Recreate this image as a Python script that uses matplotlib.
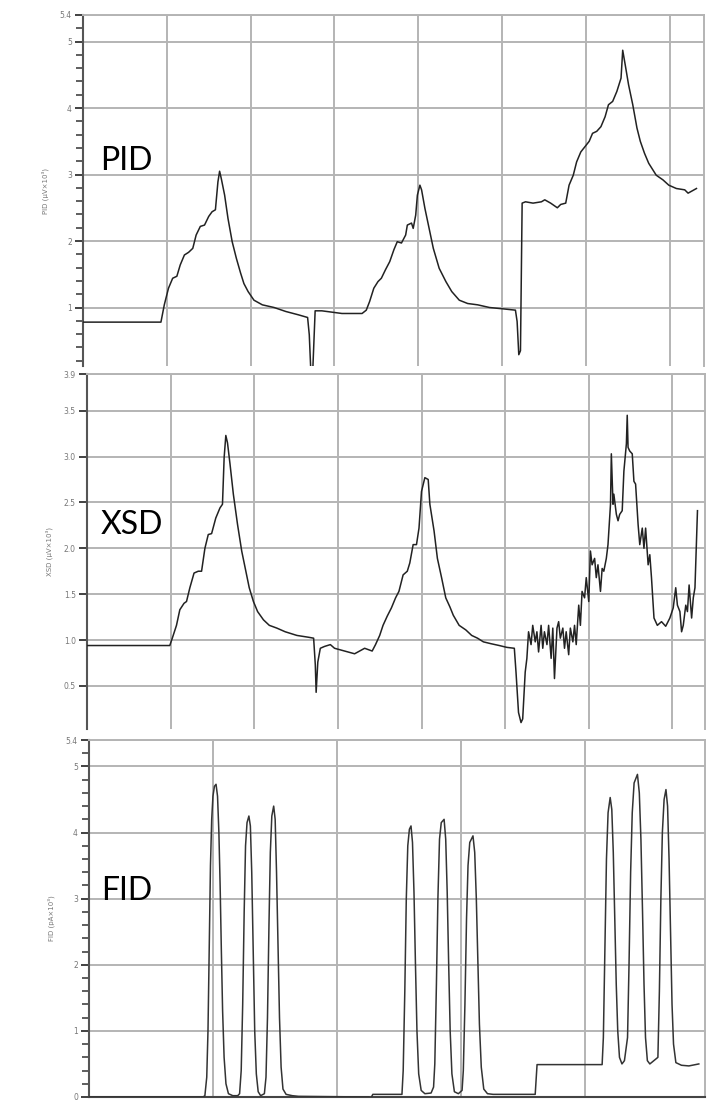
import matplotlib
matplotlib.use("Agg")
import matplotlib.pyplot as plt
from matplotlib.ticker import MultipleLocator

# ---------------- data (time in grid units, signal values) ----------------
pid_t = [0.00, 0.93, 0.97, 1.02, 1.07, 1.12, 1.16, 1.21, 1.26, 1.31, 1.35, 1.40, 1.45,
         1.50, 1.54, 1.58, 1.61, 1.63, 1.65, 1.69, 1.73, 1.78, 1.83, 1.88, 1.92, 1.97,
         2.04, 2.14, 2.28, 2.42, 2.57, 2.68, 2.70, 2.72, 2.74, 2.77, 2.85, 3.09, 3.33,
         3.38, 3.42, 3.47, 3.52, 3.56, 3.61, 3.66, 3.71, 3.75, 3.80, 3.85, 3.87, 3.92,
         3.94, 3.97, 3.99, 4.02, 4.04, 4.08, 4.13, 4.18, 4.25, 4.33, 4.40, 4.49, 4.59,
         4.71, 4.85, 5.01, 5.16, 5.18, 5.20, 5.22, 5.24, 5.28, 5.37, 5.47, 5.51, 5.58,
         5.66, 5.70, 5.76, 5.80, 5.85, 5.89, 5.94, 5.99, 6.04, 6.08, 6.13, 6.18, 6.23,
         6.27, 6.32, 6.37, 6.42, 6.44, 6.47, 6.51, 6.56, 6.61, 6.65, 6.70, 6.75, 6.80,
         6.84, 6.92, 6.99, 7.08, 7.18, 7.22, 7.32]
pid_v = [0.78, 0.78, 1.04, 1.29, 1.44, 1.47, 1.64, 1.79, 1.83, 1.89, 2.09, 2.22, 2.24,
         2.37, 2.44, 2.47, 2.89, 3.05, 2.94, 2.69, 2.34, 1.99, 1.74, 1.52, 1.36, 1.24,
         1.11, 1.04, 1.00, 0.94, 0.89, 0.85, 0.59, 0.00, 0.00, 0.95, 0.95, 0.91, 0.91,
         0.96, 1.09, 1.29, 1.39, 1.44, 1.57, 1.69, 1.87, 1.99, 1.97, 2.09, 2.24, 2.27,
         2.19, 2.39, 2.69, 2.84, 2.77, 2.49, 2.19, 1.89, 1.59, 1.39, 1.24, 1.11, 1.06,
         1.04, 1.00, 0.98, 0.96, 0.79, 0.29, 0.35, 2.57, 2.59, 2.57, 2.59, 2.62, 2.57,
         2.50, 2.55, 2.57, 2.84, 2.99, 3.19, 3.34, 3.42, 3.50, 3.62, 3.65, 3.72, 3.87,
         4.05, 4.10, 4.25, 4.45, 4.87, 4.65, 4.35, 4.05, 3.70, 3.50, 3.32, 3.17, 3.07,
         2.99, 2.92, 2.84, 2.79, 2.77, 2.72, 2.79]

xsd_t = [0.00, 0.99, 1.02, 1.07, 1.11, 1.16, 1.19, 1.23, 1.28, 1.33, 1.37, 1.41, 1.45,
         1.49, 1.54, 1.59, 1.62, 1.64, 1.66, 1.68, 1.71, 1.75, 1.80, 1.85, 1.90, 1.94,
         1.99, 2.04, 2.11, 2.18, 2.27, 2.37, 2.51, 2.65, 2.71, 2.73, 2.74, 2.76, 2.79,
         2.84, 2.91, 2.96, 3.08, 3.20, 3.32, 3.41, 3.45, 3.50, 3.54, 3.59, 3.64, 3.69,
         3.73, 3.78, 3.83, 3.86, 3.90, 3.94, 3.97, 4.00, 4.04, 4.08, 4.10, 4.15, 4.19,
         4.24, 4.29, 4.34, 4.38, 4.45, 4.53, 4.60, 4.67, 4.74, 4.83, 4.93, 5.02, 5.11,
         5.13, 5.16, 5.19, 5.21, 5.24, 5.26,
         5.28, 5.31, 5.33, 5.36, 5.38, 5.40, 5.43, 5.45, 5.47, 5.50, 5.52, 5.55, 5.57,
         5.59, 5.62, 5.64, 5.66, 5.69, 5.71, 5.73, 5.76, 5.78, 5.81, 5.83, 5.85, 5.88,
         5.90, 5.92, 5.95, 5.97, 6.00, 6.02, 6.04, 6.07, 6.09, 6.11, 6.14, 6.16, 6.18,
         6.21, 6.23, 6.26, 6.27, 6.29, 6.30, 6.33, 6.35, 6.37, 6.40, 6.42, 6.45, 6.46,
         6.47, 6.49, 6.52, 6.54, 6.56, 6.59, 6.61, 6.64, 6.66, 6.68, 6.71, 6.73, 6.75,
         6.78, 6.82, 6.87, 6.92, 6.97, 7.01, 7.04, 7.06, 7.09, 7.11, 7.13, 7.16, 7.18,
         7.20, 7.23, 7.25, 7.27, 7.30]
xsd_v = [0.94, 0.94, 1.02, 1.16, 1.33, 1.40, 1.42, 1.57, 1.73, 1.75, 1.75, 2.00, 2.15,
         2.16, 2.33, 2.44, 2.48, 2.99, 3.23, 3.15, 2.92, 2.59, 2.26, 1.97, 1.75, 1.57,
         1.42, 1.31, 1.22, 1.16, 1.13, 1.09, 1.05, 1.03, 1.02, 0.73, 0.43, 0.76, 0.91,
         0.93, 0.95, 0.91, 0.88, 0.85, 0.91, 0.88, 0.95, 1.05, 1.16, 1.26, 1.35, 1.46,
         1.53, 1.71, 1.75, 1.84, 2.04, 2.04, 2.22, 2.62, 2.77, 2.75, 2.48, 2.19, 1.89,
         1.68, 1.46, 1.36, 1.27, 1.16, 1.11, 1.05, 1.02, 0.98, 0.96, 0.94, 0.92, 0.91,
         0.65, 0.21, 0.10, 0.14, 0.65, 0.80,
         1.09, 0.95, 1.16, 0.98, 1.09, 0.87, 1.16, 0.91, 1.09, 0.95, 1.16, 0.80, 1.13,
         0.58, 1.13, 1.20, 1.02, 1.13, 0.91, 1.09, 0.84, 1.13, 0.98, 1.16, 0.95, 1.38,
         1.16, 1.53, 1.46, 1.68, 1.42, 1.97, 1.82, 1.89, 1.68, 1.82, 1.53, 1.78, 1.75,
         1.89, 2.04, 2.48, 3.03, 2.48, 2.59, 2.37, 2.30, 2.37, 2.41, 2.84, 3.14, 3.45,
         3.10, 3.06, 3.03, 2.73, 2.70, 2.26, 2.04, 2.22, 2.00, 2.22, 1.82, 1.93, 1.68,
         1.24, 1.16, 1.20, 1.15, 1.24, 1.35, 1.57, 1.38, 1.31, 1.09, 1.16, 1.38, 1.31,
         1.60, 1.24, 1.46, 1.57, 2.41]

fid_t = [0.000, 0.920,
         0.935, 0.950, 0.960, 0.970, 0.980, 0.990, 1.000, 1.012, 1.025, 1.037, 1.048,
         1.058, 1.068, 1.078, 1.090, 1.105, 1.125, 1.160, 1.200,
         1.215, 1.228, 1.240, 1.252, 1.263, 1.275, 1.290, 1.302, 1.313, 1.325, 1.337,
         1.350, 1.365, 1.385,
         1.415, 1.428, 1.440, 1.452, 1.463, 1.475, 1.490, 1.502, 1.513, 1.525, 1.537,
         1.550, 1.565, 1.590, 1.640, 1.690, 2.260, 2.270, 2.290, 2.525,
         2.535, 2.548, 2.560, 2.572, 2.585, 2.598, 2.610, 2.622, 2.634, 2.646, 2.660,
         2.680, 2.710, 2.760, 2.780,
         2.790, 2.803, 2.815, 2.828, 2.842, 2.865, 2.878, 2.890, 2.902, 2.914, 2.928,
         2.948, 2.980, 3.010,
         3.020, 3.033, 3.046, 3.058, 3.072, 3.098, 3.112, 3.125, 3.138, 3.150, 3.165,
         3.185, 3.215, 3.260, 3.600, 3.615, 4.140,
         4.150, 4.162, 4.175, 4.188, 4.205, 4.218, 4.230, 4.242, 4.254, 4.266, 4.280,
         4.300, 4.320,
         4.345, 4.357, 4.370, 4.383, 4.398, 4.425, 4.440, 4.453, 4.466, 4.478, 4.490,
         4.505, 4.525,
         4.590, 4.602, 4.614, 4.626, 4.640, 4.655, 4.668, 4.680, 4.692, 4.704, 4.716,
         4.735, 4.780, 4.840, 4.920]
fid_v = [0.00, 0.00,
         0.02, 0.30, 1.00, 2.30, 3.50, 4.20, 4.55, 4.70, 4.73, 4.55, 4.00,
         3.20, 2.20, 1.30, 0.60, 0.20, 0.05, 0.02, 0.02,
         0.05, 0.40, 1.40, 2.80, 3.80, 4.15, 4.25, 4.10, 3.40, 2.20, 1.00,
         0.35, 0.08, 0.02,
         0.05, 0.30, 1.20, 2.60, 3.70, 4.25, 4.40, 4.20, 3.40, 2.30, 1.20,
         0.45, 0.12, 0.04, 0.02, 0.01, 0.00, -0.03, 0.04, 0.04,
         0.40, 1.60, 3.00, 3.80, 4.05, 4.10, 3.85, 3.10, 2.00, 1.00, 0.35,
         0.10, 0.05, 0.06, 0.15,
         0.50, 1.70, 3.00, 3.90, 4.15, 4.20, 3.90, 3.10, 2.00, 1.00, 0.35,
         0.08, 0.05, 0.10,
         0.40, 1.40, 2.70, 3.50, 3.85, 3.95, 3.70, 3.00, 2.00, 1.10, 0.45,
         0.12, 0.05, 0.04, 0.04, 0.49, 0.49,
         0.90, 2.20, 3.60, 4.30, 4.53, 4.35, 3.70, 2.70, 1.70, 1.00, 0.60,
         0.50, 0.55,
         0.90, 2.00, 3.40, 4.30, 4.75, 4.88, 4.60, 3.90, 2.80, 1.70, 0.90,
         0.55, 0.50,
         0.60, 1.60, 3.00, 4.00, 4.50, 4.65, 4.40, 3.60, 2.50, 1.40, 0.80,
         0.52, 0.48, 0.47, 0.50]

detector_names = ["PID", "XSD", "FID"]
ylabels = ["PID (μV×10³)", "XSD (μV×10³)", "FID (pA×10³)"]
pid_yticks = [1, 2, 3, 4, 5, 5.4]
pid_yticklabels = ["1", "2", "3", "4", "5", "5.4"]
xsd_yticks = [0.5, 1.0, 1.5, 2.0, 2.5, 3.0, 3.5, 3.9]
xsd_yticklabels = ["0.5", "1.0", "1.5", "2.0", "2.5", "3.0", "3.5", "3.9"]
fid_yticks = [0, 1, 2, 3, 4, 5, 5.4]
fid_yticklabels = ["0", "1", "2", "3", "4", "5", "5.4"]

# ---------------- figure ----------------
W, H = 710, 1104
fig = plt.figure(figsize=(W / 100, H / 100), dpi=100)


def px_axes(l, t, r, b):
    return fig.add_axes([l / W, 1 - b / H, (r - l) / W, (b - t) / H])


ax1 = px_axes(83, 15, 704, 366)
ax2 = px_axes(87, 374, 705, 729)
ax3 = px_axes(89, 740, 705, 1097)

grid_c = "#b4b4b4"
line_c = "#222222"

specs = [
    (ax1, pid_t, pid_v, (0, 7.41), (0.12, 5.4), pid_yticks, pid_yticklabels, 0.2, range(1, 8), line_c),
    (ax2, xsd_t, xsd_v, (0, 7.39), (0.03, 3.9), xsd_yticks, xsd_yticklabels, None, range(1, 8), line_c),
    (ax3, fid_t, fid_v, (0, 4.97), (0.0, 5.4), fid_yticks, fid_yticklabels, 0.2, range(1, 5), "#333333"),
]

label_pos = [(100, 170), (101, 534), (101, 900)]

for i, (ax, t, v, xl, yl, yt, ytl, minor, xgrid, lc) in enumerate(specs):
    ax.plot(t, v, color=lc, lw=1.1, zorder=3)
    ax.set_xlim(*xl)
    ax.set_ylim(*yl)
    ax.set_yticks(yt)
    ax.set_yticklabels(ytl)
    if minor:
        ax.yaxis.set_minor_locator(MultipleLocator(minor))
    ax.set_xticks(list(xgrid))
    ax.tick_params(axis="x", which="both", length=0, labelbottom=False)
    ax.tick_params(axis="y", which="major", direction="out", length=6, width=1.3,
                   color="#333333", labelsize=5.5, labelcolor="#777777", pad=2)
    ax.tick_params(axis="y", which="minor", direction="out", length=5, width=1.1,
                   color="#333333")
    ax.grid(True, which="major", color=grid_c, lw=1.4, zorder=1)
    for s in ["top", "right"]:
        ax.spines[s].set_color(grid_c)
        ax.spines[s].set_linewidth(1.4)
    ax.spines["left"].set_color("#555555")
    ax.spines["left"].set_linewidth(1.5)
    if i < 2:
        ax.spines["bottom"].set_visible(False)
    else:
        ax.spines["bottom"].set_color("#444444")
        ax.spines["bottom"].set_linewidth(1.5)
    ax.set_ylabel(ylabels[i], fontsize=5, color="#777777", labelpad=8)
    x, y = label_pos[i]
    fig.text(x / W, 1 - y / H, detector_names[i], fontsize=23, family="Lato",
             color="black", va="baseline", ha="left")

fig.savefig("out.png", dpi=100)
